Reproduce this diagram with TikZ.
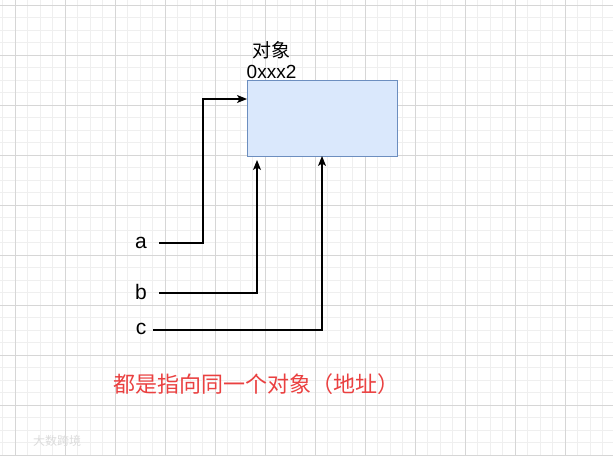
\documentclass[tikz,border=0pt]{standalone}
\usepackage{fontspec}
\setmainfont{Liberation Sans}
\newfontfamily\cjk{Noto Sans CJK SC}
\usetikzlibrary{arrows.meta}
\definecolor{minorgrid}{HTML}{EFEFEF}
\definecolor{majorgrid}{HTML}{D6D6D6}
\definecolor{boxfill}{HTML}{DAE8FC}
\definecolor{boxline}{HTML}{6C8EBF}
\definecolor{notered}{HTML}{EA4040}
\definecolor{wmark}{HTML}{DCDCDC}
\tikzset{
  minorline/.style={draw=minorgrid, line width=0.8pt},
  majorline/.style={draw=majorgrid, line width=0.9pt},
  objbox/.style={draw=boxline, fill=boxfill, line width=1pt, minimum width=150pt, minimum height=76pt, inner sep=0pt},
  varlabel/.style={font=\fontsize{21}{25}\selectfont, inner sep=0pt},
  conn/.style={line width=1.2pt, draw=black, -{Stealth[length=10pt,width=8pt,inset=2.5pt]}},
}
\begin{document}
\begin{tikzpicture}[x=1pt,y=-1pt]
\useasboundingbox (0,0) rectangle (613,456);
\fill[white] (0,0) rectangle (613,456);
% grid
\foreach \k in {0,...,49} {
  \draw[minorline] ({2.5+12.5*\k},0) -- ({2.5+12.5*\k},456);
}
\foreach \k in {0,...,36} {
  \draw[minorline] (0,{5+12.5*\k}) -- (613,{5+12.5*\k});
}
\foreach \k in {0,...,12} {
  \draw[majorline] ({15+50*\k},0) -- ({15+50*\k},456);
}
\foreach \k in {0,...,9} {
  \draw[majorline] (0,{5+50*\k}) -- (613,{5+50*\k});
}
% object box
\node[objbox] (obj) at (322,118) {};
\node[font=\cjk\fontsize{19}{22}\selectfont, inner sep=0pt] (title) at (271.5,50) {对象};
\node[font=\fontsize{19}{22}\selectfont, inner sep=0pt] (addr) at (271.5,72) {0xxx2};
% labels
\node[varlabel] (a) at (141,243) {a};
\node[varlabel] (b) at (141,292) {b};
\node[varlabel] (c) at (141,329) {c};
% connector start/end points
\coordinate (as) at (159,243);
\coordinate (bs) at (159,293);
\coordinate (cs) at (153,330);
\coordinate (ae) at (247,99);
\coordinate (be) at (257,160);
\coordinate (ce) at (322,156);
\draw[conn] (as) -- (203,243) -- (203,99) -- (ae);
\draw[conn] (bs) -- (257,293) -- (be);
\draw[conn] (cs) -- (322,330) -- (ce);
% note
\node[text=notered, font=\cjk\fontsize{22}{26}\selectfont, inner sep=0pt] (note) at (256.5,384) {都是指向同一个对象（地址）};
% watermark
\node[text=wmark, font=\cjk\fontsize{12}{14}\selectfont, inner sep=0pt] (wm) at (57,441) {大数跨境};
\end{tikzpicture}
\end{document}
